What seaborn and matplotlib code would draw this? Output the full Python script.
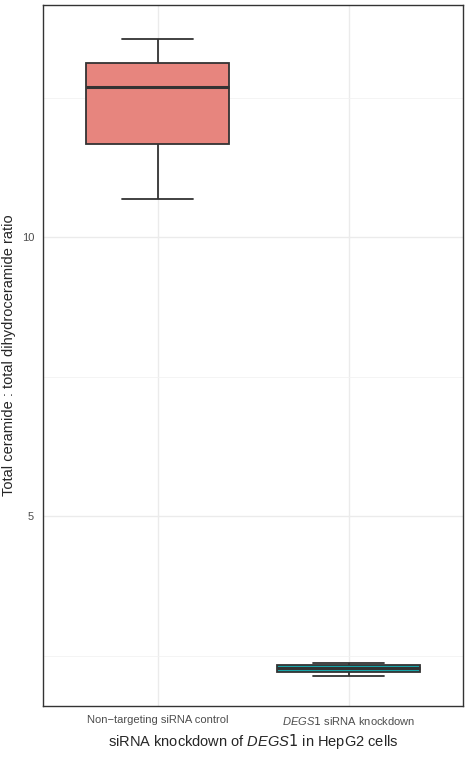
import matplotlib
matplotlib.use('Agg')
import matplotlib.pyplot as plt
import seaborn as sns
import pandas as pd
import numpy as np

# five-number summaries (min, q1, median, q3, max)
groups = ['Non\u2212targeting siRNA control', r'$\it{DEGS1}$ siRNA knockdown']
control_vals = [10.68, 11.67, 12.69, 13.12, 13.55]
degs1_vals = [2.13, 2.20, 2.28, 2.33, 2.37]
colors = ['#F8766D', '#00BFC4']

df = pd.DataFrame({
    'group': [groups[0]] * len(control_vals) + [groups[1]] * len(degs1_vals),
    'ratio': control_vals + degs1_vals,
})

sns.set_style('white')
plt.rcParams['font.family'] = ['Liberation Sans', 'DejaVu Sans']
plt.rcParams['mathtext.fontset'] = 'custom'
plt.rcParams['mathtext.it'] = 'Liberation Sans:italic'

fig, ax = plt.subplots(figsize=(4.74, 7.58), dpi=100)
sns.boxplot(data=df, x='group', y='ratio', hue='group', palette=colors, whis=(0, 100),
            width=0.75, linewidth=1.3, linecolor='#333333', legend=False, ax=ax,
            medianprops={'linewidth': 2.2}, zorder=3)

ax.set_xlim(-0.6, 1.6)
ax.set_ylim(1.6, 14.16)
ax.set_yticks([5, 10])
ax.set_yticks([2.5, 7.5, 12.5], minor=True)
ax.set_axisbelow(True)
ax.grid(which='major', color='#EBEBEB', linewidth=1.0)
ax.grid(which='minor', color='#F2F2F2', linewidth=0.6)
ax.tick_params(axis='both', which='major', length=3, color='#333333', labelcolor='#4D4D4D', labelsize=8)
ax.tick_params(axis='y', which='minor', length=0)
for s in ax.spines.values():
    s.set_color('#333333')
    s.set_linewidth(1.0)
ax.set_xlabel(r'siRNA knockdown of $\it{DEGS1}$ in HepG2 cells', fontsize=10.5)
ax.set_ylabel('Total ceramide : total dihydroceramide ratio', fontsize=10.5)

plt.subplots_adjust(left=0.091, right=0.977, top=0.993, bottom=0.069)
plt.savefig('out.png', dpi=100)
